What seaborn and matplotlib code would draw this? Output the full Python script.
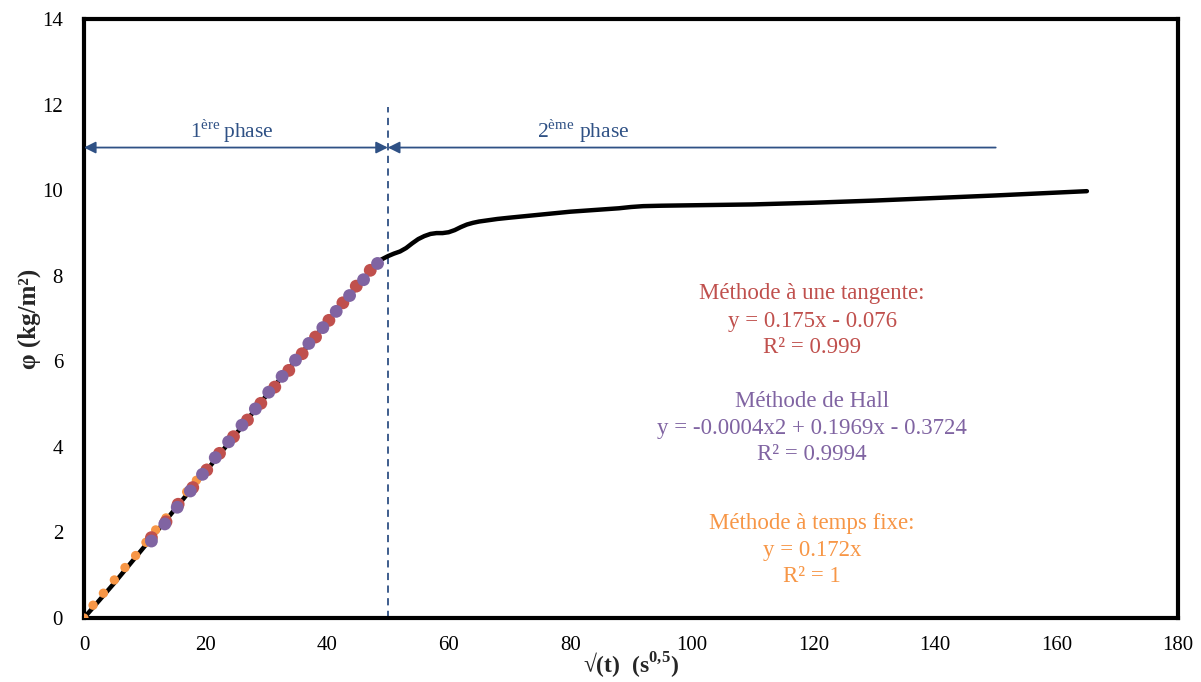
import numpy as np
import pandas as pd
import matplotlib
matplotlib.use("Agg")
import matplotlib.pyplot as plt
import seaborn as sns

# ---- data ----
curve_x = [0, 5, 10, 15, 20, 25, 30, 35, 40, 45, 48.5, 50, 51, 52, 53, 54, 55, 56, 57, 58, 59, 60, 61, 62, 63, 64, 65, 66, 68, 70, 75, 80, 85, 88, 90, 92, 95, 100, 110, 120, 130, 140, 150, 165]
curve_y = [0, 0.82, 1.68, 2.55, 3.42, 4.3, 5.2, 6.05, 6.92, 7.75, 8.35, 8.46, 8.52, 8.57, 8.65, 8.76, 8.86, 8.93, 8.98, 9.0, 9.0, 9.02, 9.07, 9.14, 9.2, 9.24, 9.27, 9.29, 9.33, 9.36, 9.43, 9.5, 9.55, 9.58, 9.61, 9.63, 9.64, 9.65, 9.67, 9.71, 9.76, 9.82, 9.88, 9.98]

orange_x = [0, 1.5, 3.2, 5.0, 6.75, 8.5, 10.2, 11.8, 13.5, 15.2, 16.9, 18.5, 20.2]
orange_y = [0, 0.30, 0.58, 0.89, 1.18, 1.46, 1.77, 2.06, 2.34, 2.64, 2.95, 3.22, 3.50]

red_x = [11.1, 13.5, 15.5, 17.9, 20.2, 22.3, 24.6, 26.9, 29.1, 31.4, 33.7, 35.9, 38.1, 40.3, 42.6, 44.8, 47.1]
red_y = [1.88, 2.25, 2.66, 3.05, 3.46, 3.85, 4.24, 4.63, 5.02, 5.40, 5.79, 6.18, 6.57, 6.96, 7.37, 7.76, 8.13]

purple_x = [11.1, 13.3, 15.35, 17.5, 19.5, 21.6, 23.8, 26.0, 28.2, 30.4, 32.6, 34.8, 37.0, 39.3, 41.5, 43.7, 46.0, 48.3]
purple_y = [1.80, 2.20, 2.59, 2.97, 3.36, 3.75, 4.12, 4.51, 4.89, 5.28, 5.65, 6.03, 6.42, 6.79, 7.17, 7.54, 7.91, 8.29]

x_ticks = [0, 20, 40, 60, 80, 100, 120, 140, 160, 180]
y_ticks = [0, 2, 4, 6, 8, 10, 12, 14]

phase_split = 50
phase_end = 150
arrow_y = 11

red_lines = ["Méthode à une tangente:", "y = 0.175x - 0.076", "R² = 0.999"]
purple_lines = ["Méthode de Hall", "y = -0.0004x2 + 0.1969x - 0.3724", "R² = 0.9994"]
orange_lines = ["Méthode à temps fixe:", "y = 0.172x", "R² = 1"]

RED = "#C0504D"
PURPLE = "#8064A2"
ORANGE = "#F79646"
NAVY = "#2F5185"

sns.set_style("white")
plt.rcParams["font.family"] = ["Liberation Serif", "DejaVu Serif"]
plt.rcParams["mathtext.fontset"] = "custom"
plt.rcParams["mathtext.rm"] = "Liberation Serif"
plt.rcParams["mathtext.bf"] = "Liberation Serif:bold"

fig = plt.figure(figsize=(12.01, 6.82), dpi=100)
ax = fig.add_axes([0.0699, 0.0938, 0.911, 0.878])

sns.lineplot(x=curve_x, y=curve_y, ax=ax, color="black", linewidth=3.2, sort=False, zorder=2)
sns.scatterplot(x=orange_x, y=orange_y, ax=ax, color=ORANGE, s=45, edgecolor="none", zorder=3)
sns.scatterplot(x=red_x, y=red_y, ax=ax, color=RED, s=85, edgecolor="none", zorder=4)
sns.scatterplot(x=purple_x, y=purple_y, ax=ax, color=PURPLE, s=85, edgecolor="none", zorder=5)

ax.set_xlim(0, 180)
ax.set_ylim(0, 14)
ax.set_xticks(x_ticks)
ax.set_yticks(y_ticks)
ax.tick_params(direction="in", length=6, width=1.3, labelsize=15, colors="black")
ax.tick_params(axis="x", pad=13)
ax.tick_params(axis="y", pad=15)
for sp in ax.spines.values():
    sp.set_linewidth(3)
    sp.set_color("black")

# dashed split line
ax.plot([phase_split, phase_split], [0, 11.95], linestyle=(0, (4, 3)), color=NAVY, linewidth=1.3, zorder=1)

# arrows
ax.annotate("", xy=(0, arrow_y), xytext=(phase_split, arrow_y),
            arrowprops=dict(arrowstyle="<|-|>,head_length=0.7,head_width=0.35", color=NAVY, lw=1.3, shrinkA=0, shrinkB=0))
ax.annotate("", xy=(phase_split, arrow_y), xytext=(phase_end, arrow_y),
            arrowprops=dict(arrowstyle="-|>,head_length=0.7,head_width=0.35", color=NAVY, lw=1.3, shrinkA=0, shrinkB=0))
ax.text(24.4, 11.38, r"1$^{\rm ère}$$\,$phase", color=NAVY, fontsize=15.5, ha="center", va="center")
ax.text(82.1, 11.38, r"2$^{\rm ème}$ phase", color=NAVY, fontsize=15.5, ha="center", va="center")

# annotation blocks
tx = 119.8
for lines, ys, col in [(red_lines, [7.59, 6.94, 6.33], RED),
                       (purple_lines, [5.07, 4.44, 3.83], PURPLE),
                       (orange_lines, [2.22, 1.59, 0.98], ORANGE)]:
    for t, yy in zip(lines, ys):
        ax.text(tx, yy, t, color=col, fontsize=16.5, ha="center", va="center")

ax.set_xlabel(r"√(t)  (s$^{\mathbf{0{,}5}}$)", fontsize=17, fontweight="bold", labelpad=-3)
ax.set_ylabel("φ (kg/m²)", fontsize=18, fontweight="bold", labelpad=1)

fig.savefig("out.png", dpi=100)
